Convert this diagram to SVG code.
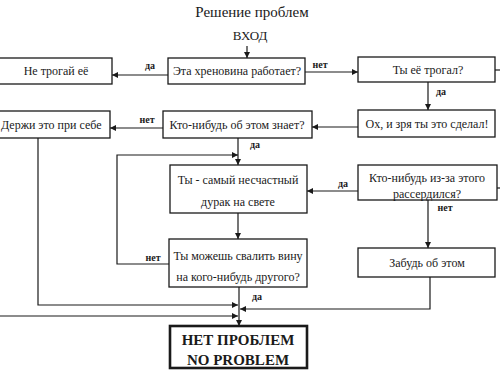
<svg xmlns="http://www.w3.org/2000/svg" width="500" height="375" viewBox="0 0 500 375">
<style>
.box{fill:#fff;stroke:#1a1a1a;stroke-width:1.3}
.bold{fill:#fff;stroke:#1a1a1a;stroke-width:2.6}
.t{font-family:"Liberation Serif","Times New Roman","DejaVu Serif",serif;font-size:12px;fill:#1a1a1a;text-anchor:middle}
.b{font-family:"Liberation Serif","Times New Roman","DejaVu Serif",serif;font-size:15px;font-weight:bold;fill:#1a1a1a;text-anchor:middle}
.l{font-family:"Liberation Serif","Times New Roman","DejaVu Serif",serif;font-size:10px;font-weight:bold;fill:#1a1a1a;text-anchor:middle}
.c{fill:none;stroke:#1a1a1a;stroke-width:1.2}
</style>
<defs>
<marker id="a" viewBox="0 0 10 10" refX="10" refY="5" markerWidth="7" markerHeight="6" markerUnits="userSpaceOnUse" orient="auto">
<path d="M0,0 L10,5 L0,10 z" fill="#1a1a1a"/>
</marker>
</defs>
<rect width="500" height="375" fill="#fff"/>
<text x="252" y="17" class="t" style="font-size:15px">Решение проблем</text>
<text x="250" y="40" class="t" style="font-size:13px">ВХОД</text>

<g id="connectors">
<path class="c" d="M247,46 V58" marker-end="url(#a)"/>
<path class="c" d="M168,75 H112" marker-end="url(#a)"/>
<path class="c" d="M305,72 H358" marker-end="url(#a)"/>
<path class="c" d="M495,70 H500"/>
<path class="c" d="M428,82 V110" marker-end="url(#a)"/>
<path class="c" d="M358,127 H312" marker-end="url(#a)"/>
<path class="c" d="M163,128 H110" marker-end="url(#a)"/>
<path class="c" d="M238,138 V165" marker-end="url(#a)"/>
<path class="c" d="M38,138 V305 H238" marker-end="url(#a)"/>
<path class="c" d="M169,264 H117 V155 H238" marker-end="url(#a)"/>
<path class="c" d="M238,213 V239" marker-end="url(#a)"/>
<path class="c" d="M358,191 H307" marker-end="url(#a)"/>
<path class="c" d="M500,188 H497"/>
<path class="c" d="M428,200 V248" marker-end="url(#a)"/>
<path class="c" d="M430,277 V309 H240" marker-end="url(#a)"/>
<path class="c" d="M0,316 H238" marker-end="url(#a)"/>
<path class="c" d="M239,287 V326" marker-end="url(#a)"/>
<text x="150" y="69" class="l">да</text>
<text x="320" y="68" class="l">нет</text>
<text x="441" y="95" class="l">да</text>
<text x="147" y="123" class="l">нет</text>
<text x="255" y="148" class="l">да</text>
<text x="153" y="261" class="l">нет</text>
<text x="343" y="187" class="l">да</text>
<text x="445" y="211" class="l">нет</text>
<text x="257" y="300" class="l">да</text>
</g>

<g id="n1"><rect class="box" x="168" y="58" width="137" height="26"/><text x="237" y="75" class="t">Эта хреновина работает?</text></g>
<g id="n2"><rect class="box" x="-2" y="58" width="114" height="26"/><text x="56" y="75" class="t">Не трогай её</text></g>
<g id="n3"><rect class="box" x="358" y="57" width="137" height="25"/><text x="428" y="74" class="t">Ты её трогал?</text></g>
<g id="n4"><rect class="box" x="358" y="110" width="137" height="27"/><text x="427" y="128" class="t">Ох, и зря ты это сделал!</text></g>
<g id="n5"><rect class="box" x="163" y="111" width="149" height="27"/><text x="237" y="129" class="t">Кто-нибудь об этом знает?</text></g>
<g id="n6"><rect class="box" x="-2" y="111" width="112" height="27"/><text x="1" y="129" class="t" style="text-anchor:start">Держи это при себе</text></g>
<g id="n7"><rect class="box" x="170" y="165" width="137" height="48"/><text x="238" y="184" class="t">Ты - самый несчастный</text><text x="238" y="206" class="t">дурак на свете</text></g>
<g id="n8"><rect class="box" x="169" y="239" width="138" height="48"/><text x="238" y="260" class="t">Ты можешь свалить вину</text><text x="238" y="281" class="t">на кого-нибудь другого?</text></g>
<g id="n9"><rect class="box" x="358" y="165" width="139" height="35"/><text x="427" y="182" class="t">Кто-нибудь из-за этого</text><text x="427" y="198" class="t">рассердился?</text></g>
<g id="n10"><rect class="box" x="358" y="248" width="137" height="29"/><text x="427" y="267" class="t">Забудь об этом</text></g>
<g id="n11"><rect class="bold" x="170" y="326" width="137" height="42"/><text x="238" y="345" class="b">НЕТ ПРОБЛЕМ</text><text x="238" y="365" class="b">NO PROBLEM</text></g>
</svg>
